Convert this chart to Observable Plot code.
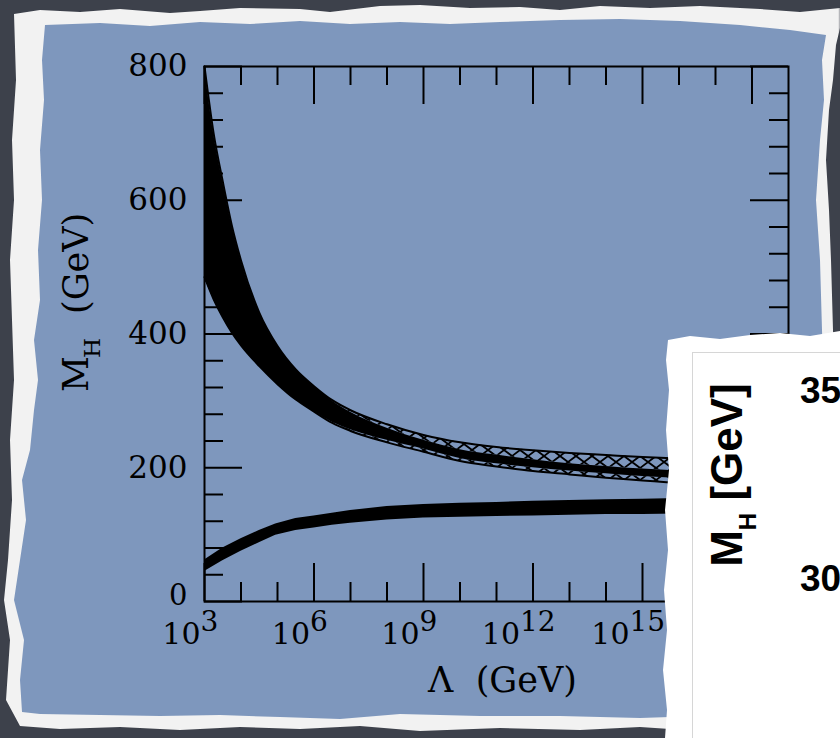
<!DOCTYPE html>
<html>
<head>
<meta charset="utf-8">
<script src="https://cdn.jsdelivr.net/npm/d3@7"></script>
<script src="https://cdn.jsdelivr.net/npm/@observablehq/plot@0.6"></script>
<style>
  html, body { margin: 0; padding: 0; background: #3d414b; }
  #stage { position: relative; width: 840px; height: 738px; overflow: hidden; background: #3d414b; }
  #tear { position: absolute; left: 0; top: 0; width: 840px; height: 738px; background: #f2f2f2; filter: blur(0.8px);
    clip-path: polygon(14px 14px, 40px 10px, 80px 12px, 120px 9px, 170px 13px, 200px 11px, 240px 8px, 300px 9px, 330px 12px, 380px 6px, 420px 5px, 470px 8px, 520px 7px, 560px 10px, 600px 6px, 650px 8px, 700px 6px, 760px 9px, 800px 12px, 840px 8px, 840px 28px, 836px 45px, 833px 80px, 829px 110px, 826px 160px, 829px 210px, 831px 260px, 833px 330px, 835px 400px, 835px 729px, 700px 731px, 640px 727px, 580px 730px, 500px 728px, 420px 731px, 360px 726px, 300px 729px, 240px 727px, 180px 730px, 120px 727px, 60px 729px, 20px 726px, 6px 700px, 10px 640px, 4px 600px, 8px 560px, 12px 500px, 10px 440px, 14px 380px, 12px 320px, 10px 260px, 14px 200px, 12px 140px, 16px 80px); }
  #paper { position: absolute; left: 0; top: 0; width: 840px; height: 738px; background: #7e97bd;
    clip-path: polygon(45px 25px, 100px 23px, 150px 26px, 200px 22px, 250px 24px, 300px 21px, 350px 24px, 400px 22px, 450px 24px, 500px 22px, 560px 20px, 620px 19px, 680px 21px, 740px 25px, 790px 30px, 826px 35px, 822px 60px, 824px 100px, 820px 140px, 816px 200px, 820px 260px, 822px 330px, 824px 400px, 825px 700px, 800px 712px, 700px 716px, 640px 718px, 560px 716px, 480px 716px, 400px 714px, 340px 719px, 280px 717px, 220px 715px, 160px 716px, 100px 715px, 40px 714px, 22px 712px, 20px 680px, 24px 640px, 14px 600px, 20px 560px, 26px 520px, 22px 480px, 30px 450px, 34px 410px, 38px 380px, 34px 340px, 40px 300px, 38px 250px, 42px 200px, 40px 150px, 44px 100px, 42px 60px); }
  #chart { position: absolute; left: 0; top: 0; }
  #overlay { position: absolute; left: 660px; top: 330px; width: 180px; height: 408px; background: #ffffff; overflow: hidden;
    clip-path: polygon(8px 10px, 30px 6px, 60px 9px, 90px 5px, 120px 3px, 150px 6px, 180px 1px, 180px 408px, 5px 408px, 7px 380px, 3px 340px, 7px 300px, 4px 260px, 8px 220px, 5px 180px, 9px 140px, 6px 100px, 9px 60px, 6px 30px); }
  #inner { position: absolute; left: 32px; top: 22px; width: 160px; height: 400px; border-left: 1px solid #d6d6d6; border-top: 1px solid #d6d6d6; }
  #ylab2 { position: absolute; left: -63px; top: 120px; width: 260px; height: 50px; line-height: 50px; text-align: center;
    transform: rotate(-90deg); font-family: "Liberation Sans", Arial, sans-serif; font-weight: bold; font-size: 44px; color: #000; white-space: nowrap; }
  #ylab2 sub { font-size: 24px; vertical-align: -14px; line-height: 0; }
  .num { position: absolute; left: 140px; font-family: "Liberation Sans", Arial, sans-serif; font-weight: bold; font-size: 37px; color: #000; line-height: 1; }
</style>
</head>
<body>
<div id="stage">
  <div id="tear"></div>
  <div id="paper"></div>
  <div id="chart"></div>
  <div id="overlay">
    <div id="inner"></div>
    <div id="ylab2">M<sub>H</sub> [GeV]</div>
    <div class="num" style="top:42px">35</div>
    <div class="num" style="top:230px">30</div>
  </div>
</div>
<script>
// ---- data (log10 of Λ in GeV, M_H in GeV) ----
const upperLogL   = [3, 3.25, 3.5, 3.75, 4, 4.5, 5, 5.5, 6, 6.5, 7, 8, 9, 10, 11, 12, 13, 14, 15, 16, 17, 18, 19];
const blackTop    = [800, 700, 628, 562, 510, 432, 382, 347, 322, 300, 283, 259, 241, 227, 219, 212, 206, 202, 198, 195, 193, 191, 189];
const blackBottom = [485, 452, 425, 402, 383, 352, 325, 302, 284, 268, 257, 241, 228, 214, 206, 200, 195, 191, 187, 184, 181, 179, 177];
const hatchTop    = [800, 700, 628, 562, 510, 432, 382, 347, 322, 301, 286, 265, 249, 238, 231, 226, 222, 219, 216, 214, 212, 211, 210];
const hatchBottom = [485, 452, 425, 402, 383, 352, 325, 302, 284, 267, 255, 238, 224, 210, 202, 195, 190, 185, 181, 177, 174, 172, 170];

const lowerLogL   = [3, 3.5, 4, 4.5, 4.95, 5.5, 6, 6.5, 7, 8, 9, 10, 11, 12, 13, 14, 15, 16, 17, 18, 19];
const lowerBottom = [45, 61, 75, 88, 99, 106, 110, 114, 117, 122, 125, 126, 127, 128, 129, 130, 130, 131, 131, 132, 132];
const lowerTop    = [62, 80, 94, 106, 116, 124, 128, 132, 136, 142, 145, 147, 148, 150, 151, 152, 153, 154, 154, 155, 155];

const xMajorExp = [3, 6, 9, 12, 15, 18];
const xMinorExp = [4, 5, 7, 8, 10, 11, 13, 14, 16, 17];
const yMajor = [0, 200, 400, 600, 800];
const yMinor = [40, 80, 120, 160, 240, 280, 320, 360, 440, 480, 520, 560, 640, 680, 720, 760];

const xLabelBase = "10";
const xTitle = "Λ\u00a0\u00a0(GeV)";
const yTitleM = "M", yTitleSub = "H", yTitleUnit = "(GeV)";

// ---- tables ----
const upper = upperLogL.map((e, i) => ({L: 10 ** e, bt: blackTop[i], bb: blackBottom[i], ht: hatchTop[i], hb: hatchBottom[i]}));
const lower = lowerLogL.map((e, i) => ({L: 10 ** e, lo: lowerBottom[i], hi: lowerTop[i]}));

const W = 840, H = 738, ML = 204, MR = 52, MT = 66, MB = 137;
const FW = W - ML - MR, FH = H - MT - MB;
const serif = "DejaVu Serif, serif";

const plot = Plot.plot({
  width: W, height: H,
  marginLeft: ML, marginRight: MR, marginTop: MT, marginBottom: MB,
  x: {type: "log", domain: [1e3, 1e19], axis: null},
  y: {domain: [0, 800], axis: null},
  style: {background: "transparent", overflow: "visible"},
  marks: [
    // hatched regions
    Plot.areaY(upper, {x: "L", y1: "bt", y2: "ht", fill: "url(#xhatch)", curve: "monotone-x"}),
    Plot.areaY(upper, {x: "L", y1: "hb", y2: "bb", fill: "url(#xhatch)", curve: "monotone-x"}),
    Plot.lineY(upper, {x: "L", y: "ht", stroke: "black", strokeWidth: 2, curve: "monotone-x"}),
    Plot.lineY(upper, {x: "L", y: "hb", stroke: "black", strokeWidth: 2, curve: "monotone-x"}),
    // black bands
    Plot.areaY(upper, {x: "L", y1: "bb", y2: "bt", fill: "black", curve: "monotone-x"}),
    Plot.areaY(lower, {x: "L", y1: "lo", y2: "hi", fill: "black", curve: "linear"}),
    // frame
    Plot.frame({stroke: "black", strokeWidth: 2}),
    // y ticks (left & right, inward)
    Plot.tickY(yMajor, {y: d => d, stroke: "black", strokeWidth: 2, insetRight: FW - 38}),
    Plot.tickY(yMinor, {y: d => d, stroke: "black", strokeWidth: 2, insetRight: FW - 19}),
    Plot.tickY(yMajor, {y: d => d, stroke: "black", strokeWidth: 2, insetLeft: FW - 38}),
    Plot.tickY(yMinor, {y: d => d, stroke: "black", strokeWidth: 2, insetLeft: FW - 19}),
    // x ticks (bottom & top, inward)
    Plot.tickX(xMajorExp, {x: d => 10 ** d, stroke: "black", strokeWidth: 2, insetTop: FH - 38}),
    Plot.tickX(xMinorExp, {x: d => 10 ** d, stroke: "black", strokeWidth: 2, insetTop: FH - 19}),
    Plot.tickX(xMajorExp, {x: d => 10 ** d, stroke: "black", strokeWidth: 2, insetBottom: FH - 38}),
    Plot.tickX(xMinorExp, {x: d => 10 ** d, stroke: "black", strokeWidth: 2, insetBottom: FH - 19}),
    // y tick labels (the "0" sits a little higher, clear of the 10^3 label)
    Plot.text(yMajor, {filter: d => d > 0, y: d => d, text: d => String(d), frameAnchor: "left", textAnchor: "end", dx: -17, dy: 0, fontSize: 31, fontFamily: serif, fill: "black"}),
    Plot.text(yMajor, {filter: d => d === 0, y: d => d, text: d => String(d), frameAnchor: "left", textAnchor: "end", dx: -17, dy: -6, fontSize: 29, fontFamily: serif, fill: "black"}),
    // x tick labels: base "10" and raised exponent
    Plot.text(xMajorExp, {filter: d => d < 10, x: d => 10 ** d, text: () => xLabelBase, frameAnchor: "bottom", textAnchor: "end", dx: -4, dy: 42, fontSize: 30, fontFamily: serif, fill: "black"}),
    Plot.text(xMajorExp, {filter: d => d >= 10, x: d => 10 ** d, text: () => xLabelBase, frameAnchor: "bottom", textAnchor: "end", dx: -13, dy: 42, fontSize: 30, fontFamily: serif, fill: "black"}),
    Plot.text(xMajorExp, {filter: d => d < 10, x: d => 10 ** d, text: d => String(d), frameAnchor: "bottom", textAnchor: "start", dx: -4, dy: 29, fontSize: 28, fontFamily: serif, fill: "black"}),
    Plot.text(xMajorExp, {filter: d => d >= 10, x: d => 10 ** d, text: d => String(d), frameAnchor: "bottom", textAnchor: "start", dx: -13, dy: 29, fontSize: 28, fontFamily: serif, fill: "black"}),
    // axis titles
    Plot.text([xTitle], {text: d => d, frameAnchor: "bottom", textAnchor: "middle", dx: 6, dy: 90, fontSize: 35, fontFamily: serif, fill: "black"}),
    Plot.text([yTitleM], {text: d => d, frameAnchor: "left", textAnchor: "start", rotate: -90, dx: -128, dy: 58, fontSize: 35, fontFamily: serif, fill: "black"}),
    Plot.text([yTitleSub], {text: d => d, frameAnchor: "left", textAnchor: "start", rotate: -90, dx: -112, dy: 24, fontSize: 23, fontFamily: serif, fill: "black"}),
    Plot.text([yTitleUnit], {text: d => d, frameAnchor: "left", textAnchor: "start", rotate: -90, dx: -128, dy: -20, fontSize: 35, fontFamily: serif, fill: "black"})
  ]
});

// cross-hatch pattern used by the hatched bands
const defs = d3.select(plot).insert("defs", ":first-child");
const pat = defs.append("pattern").attr("id", "xhatch").attr("patternUnits", "userSpaceOnUse").attr("width", 16).attr("height", 12);
pat.append("path").attr("d", "M0,0L16,12M0,12L16,0").attr("stroke", "black").attr("stroke-width", 1.8).attr("fill", "none");

document.getElementById("chart").appendChild(plot);
</script>
</body>
</html>
